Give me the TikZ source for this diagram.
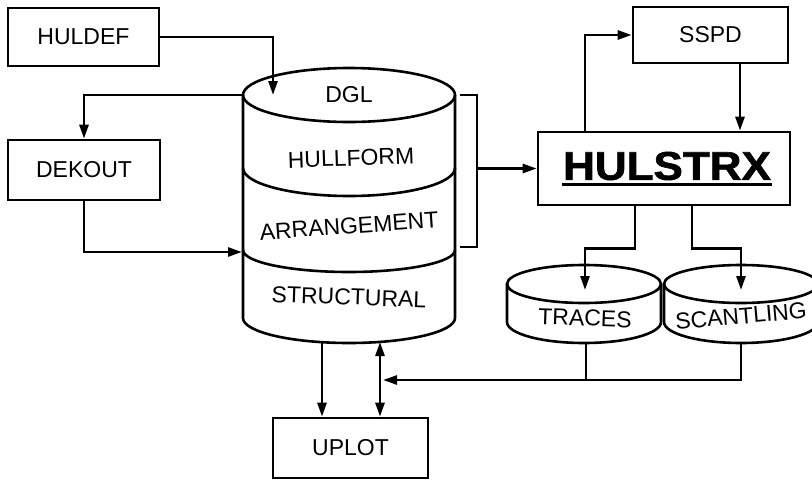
\documentclass[tikz,border=0pt]{standalone}
\usepackage{fontspec}
\setmainfont{Liberation Sans}
\newfontfamily\heavyfont[FakeBold=1.5]{Liberation Sans Bold}
\usetikzlibrary{arrows.meta}
\begin{document}
\begin{tikzpicture}[x=1pt,y=-1pt,line width=2.6pt,
  lbl/.style={font=\fontsize{23}{27}\selectfont},
  box/.style={draw,lbl,inner sep=0pt},
  arr/.style={-{Triangle[length=14pt,width=9pt]}},
  darr/.style={{Triangle[length=14pt,width=9pt]}-{Triangle[length=14pt,width=9pt]}}]
\useasboundingbox (0,0) rectangle (812,480);
% boxes
\node[box,minimum width=151pt,minimum height=58pt] (huldef) at (83.5,37) {HULDEF};
\node[box,minimum width=152pt,minimum height=60pt] (dekout) at (84,170) {DEKOUT};
\node[box,minimum width=155pt,minimum height=56pt] (sspd) at (710.5,35) {SSPD};
\node[draw,minimum width=252pt,minimum height=73pt,inner sep=0pt] (hulstrx) at (664,168.5) {};
\node[font=\fontsize{40}{44}\heavyfont,inner sep=0pt] (hultext) at (667,166) {\scalebox{1.1}[1]{HULSTRX}};
\draw[line width=2.8pt] ([yshift=-5pt]hultext.base west) -- ([yshift=-5pt]hultext.base east);
\node[box,minimum width=155pt,minimum height=60pt] (uplot) at (350.5,448) {UPLOT};
% main cylinder
\draw (349,95) ellipse [x radius=106pt,y radius=27pt];
\draw (243,95) -- (243,318) arc[start angle=180,end angle=360,x radius=106pt,y radius=25pt] -- (455,95);
\draw (243,168) arc[start angle=180,end angle=360,x radius=106pt,y radius=28pt];
\draw (243,250) arc[start angle=180,end angle=360,x radius=106pt,y radius=22pt];
\node[lbl] (dgl) at (349,95) {DGL};
\node[lbl,rotate=2] (hullform) at (351,158) {HULLFORM};
\node[lbl,rotate=4] (arrangement) at (349,226) {ARRANGEMENT};
\node[lbl,rotate=-2] (structural) at (349,297) {STRUCTURAL};
% small cylinders
\draw (584,284) ellipse [x radius=77pt,y radius=19pt];
\draw (507,284) -- (507,322) arc[start angle=180,end angle=360,x radius=77pt,y radius=21pt] -- (661,284);
\draw (741,284) ellipse [x radius=77pt,y radius=19pt];
\draw (664,284) -- (664,322) arc[start angle=180,end angle=360,x radius=77pt,y radius=21pt] -- (818,284);
\node[lbl,rotate=-2] (traces) at (585,318) {TRACES};
\node[lbl,rotate=5] (scantling) at (741,316) {SCANTLING};
% coordinates
\coordinate (dglin) at (273,95);
\coordinate (dglL) at (243,95);
\coordinate (cylA) at (242,252);
\coordinate (brT) at (460,95);
\coordinate (brB) at (460,247);
\coordinate (brM) at (477,168.5);
\coordinate (trin) at (585,290);
\coordinate (scin) at (741,290);
\coordinate (trB) at (586,343);
\coordinate (scB) at (741,343);
\coordinate (upin) at (383,380);
\coordinate (cb1) at (322,342);
\coordinate (cb2) at (380,342);
% connectors
\draw[arr] (huldef.east) -| (dglin);
\draw[arr] (dglL) -| (dekout.north);
\draw[arr] (dekout.south) |- (cylA);
\draw (brT) -- ++(17,0) |- (brB);
\draw[arr] (brM) -- (hulstrx.west);
\draw[arr] ([xshift=-79pt]hulstrx.north) |- (sspd.west);
\draw[arr] ([xshift=29.5pt]sspd.south) -- ([xshift=29.5pt]sspd.south |- hulstrx.north);
\draw[arr] ([xshift=-29pt]hulstrx.south) -- ++(0,42) -| (trin);
\draw[arr] ([xshift=28pt]hulstrx.south) -- ++(0,42) -| (scin);
\draw (trB) -- (trB |- upin);
\draw[arr] (scB) |- (upin);
\draw[arr] (cb1) -- (cb1 |- uplot.north);
\draw[darr] (cb2) -- (cb2 |- uplot.north);
\end{tikzpicture}
\end{document}
